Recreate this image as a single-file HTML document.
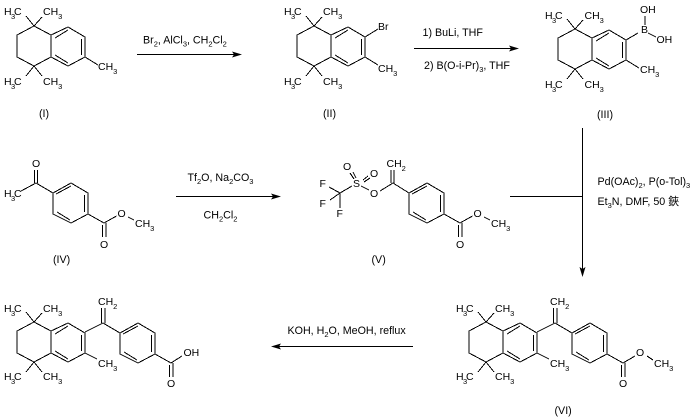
<!DOCTYPE html>
<html><head><meta charset="utf-8">
<style>
html,body{margin:0;padding:0;background:#fff;overflow:hidden}
svg{display:block}
text{font-family:"Liberation Sans","Noto Sans CJK JP",sans-serif;font-size:10.5px;fill:#000}
.r{font-size:10.7px}
.s{font-size:7.5px}
line,.l{stroke:#000;stroke-width:1;fill:none;shape-rendering:crispEdges}
.a{fill:#000;stroke:none}
</style></head><body>
<svg width="692" height="418" viewBox="0 0 692 418" xmlns="http://www.w3.org/2000/svg">
<defs>
<g id="t">
<polyline class="l" points="34,26 17,35 17,57 34,66 51,57 51,35 34,26"/>
<polyline class="l" points="51,35 68,27 85,37 85,57 68,66 51,57"/>
<line x1="55" y1="38" x2="68" y2="30"/><line x1="81.5" y1="39" x2="81.5" y2="55"/><line x1="55" y1="55" x2="68" y2="63"/>
<line x1="34" y1="26" x2="26" y2="16"/><line x1="34" y1="26" x2="42" y2="17"/>
<line x1="34" y1="66" x2="26" y2="76"/><line x1="34" y1="66" x2="42" y2="76"/>
</g>
<g id="b">
<polyline class="l" points="71,183 88,193 88,214 71,223 53,214 53,193 71,183"/>
<line x1="56" y1="194" x2="71" y2="186"/><line x1="84.5" y1="195" x2="84.5" y2="212"/><line x1="57" y1="212" x2="70" y2="220"/>
<line x1="88" y1="214" x2="104" y2="223"/>
<line x1="102.5" y1="225" x2="102.5" y2="237"/><line x1="106" y1="223" x2="106" y2="237"/>
</g>
<g id="e"><line x1="104" y1="223" x2="116.5" y2="216"/><line x1="128" y1="217" x2="134" y2="220"/></g>
<g id="v">
<use href="#t"/>
<use href="#b" x="67" y="-156"/>
<line x1="85" y1="36" x2="103" y2="27"/><line x1="103" y1="27" x2="120" y2="37"/>
<line x1="101.5" y1="12" x2="101.5" y2="27"/><line x1="105" y1="12" x2="105" y2="27"/>
<line x1="85" y1="57" x2="97" y2="63"/>
</g>
</defs>

<!-- I -->
<use href="#t"/>
<line x1="85" y1="57" x2="98" y2="65"/>
<text x="4" y="15">H<tspan class="s" x="11" y="19">3</tspan><tspan x="14" y="15">C</tspan></text>
<text x="43" y="15">CH<tspan class="s" dy="4">3</tspan></text>
<text x="4" y="85">H<tspan class="s" x="11" y="89">3</tspan><tspan x="14" y="85">C</tspan></text>
<text x="43" y="85">CH<tspan class="s" dy="4">3</tspan></text>
<text x="98" y="70">CH<tspan class="s" dy="4">3</tspan></text>
<text class="r" x="39" y="117">(I)</text>

<!-- II -->
<use href="#t" x="280"/>
<line x1="365" y1="37" x2="378" y2="29"/>
<line x1="365" y1="57" x2="378" y2="65"/>
<text x="284" y="15">H<tspan class="s" x="291" y="19">3</tspan><tspan x="294" y="15">C</tspan></text>
<text x="323" y="15">CH<tspan class="s" dy="4">3</tspan></text>
<text x="284" y="85">H<tspan class="s" x="291" y="89">3</tspan><tspan x="294" y="85">C</tspan></text>
<text x="323" y="85">CH<tspan class="s" dy="4">3</tspan></text>
<text x="378" y="30">Br</text>
<text x="378" y="72">CH<tspan class="s" dy="4">3</tspan></text>
<text class="r" x="323" y="117">(II)</text>

<!-- III -->
<use href="#t" x="541" y="3"/>
<line x1="626" y1="40" x2="638" y2="33"/>
<line x1="626" y1="60" x2="639" y2="68"/>
<line x1="645" y1="16" x2="645" y2="25"/>
<line x1="648" y1="33" x2="656" y2="37"/>
<text x="641" y="33">B</text>
<text x="640" y="13">OH</text>
<text x="656.5" y="43">OH</text>
<text x="545" y="19">H<tspan class="s" x="552" y="23">3</tspan><tspan x="555" y="19">C</tspan></text>
<text x="584.5" y="19">CH<tspan class="s" dy="4">3</tspan></text>
<text x="545" y="88">H<tspan class="s" x="552" y="92">3</tspan><tspan x="555" y="88">C</tspan></text>
<text x="584.5" y="88">CH<tspan class="s" dy="4">3</tspan></text>
<text x="640" y="73">CH<tspan class="s" dy="4">3</tspan></text>
<text class="r" x="597" y="118">(III)</text>

<!-- IV -->
<use href="#b"/><use href="#e"/>
<line x1="53" y1="193" x2="36" y2="183"/><line x1="36" y1="183" x2="21" y2="191"/>
<line x1="34.5" y1="170" x2="34.5" y2="183"/><line x1="37.5" y1="170" x2="37.5" y2="183"/>
<text x="32" y="167">O</text>
<text x="4" y="197">H<tspan class="s" x="11" y="201">3</tspan><tspan x="14" y="197">C</tspan></text>
<text x="100" y="248">O</text>
<text x="117.5" y="217">O</text>
<text x="135" y="227">CH<tspan class="s" dy="4">3</tspan></text>
<text class="r" x="53" y="263">(IV)</text>

<!-- V -->
<use href="#b" x="356"/><use href="#e" x="356"/>
<line x1="409" y1="193" x2="393" y2="183"/>
<line x1="391" y1="170" x2="391" y2="183"/><line x1="394" y1="170" x2="394" y2="183"/>
<line x1="393" y1="183" x2="380" y2="191"/>
<line x1="369" y1="190" x2="361" y2="186"/>
<line x1="350" y1="173" x2="354" y2="179"/><line x1="353" y1="172" x2="356" y2="178"/>
<line x1="363" y1="180" x2="368" y2="176"/><line x1="364" y1="182" x2="370" y2="178"/>
<line x1="352" y1="186" x2="340" y2="193"/>
<line x1="340" y1="193" x2="329" y2="187"/><line x1="340" y1="193" x2="330" y2="200"/><line x1="340" y1="193" x2="340" y2="208"/>
<text x="353" y="187">S</text>
<text x="343" y="170">O</text>
<text x="370" y="177">O</text>
<text x="370" y="197">O</text>
<text x="319.5" y="187">F</text>
<text x="319.5" y="207">F</text>
<text x="336.5" y="217">F</text>
<text x="386.5" y="167">CH<tspan class="s" dy="4">2</tspan></text>
<text x="456" y="248">O</text>
<text x="473.5" y="217">O</text>
<text x="491" y="227">CH<tspan class="s" dy="4">3</tspan></text>
<text class="r" x="371.5" y="263">(V)</text>

<!-- VI -->
<use href="#v" x="452" y="296"/>
<line x1="623" y1="363" x2="635" y2="356"/><line x1="647" y1="356" x2="653" y2="360"/>
<text x="456" y="312">H<tspan class="s" x="463" y="316">3</tspan><tspan x="466" y="312">C</tspan></text>
<text x="495" y="312">CH<tspan class="s" dy="4">3</tspan></text>
<text x="456" y="380">H<tspan class="s" x="463" y="384">3</tspan><tspan x="466" y="380">C</tspan></text>
<text x="495" y="380">CH<tspan class="s" dy="4">3</tspan></text>
<text x="550" y="367">CH<tspan class="s" dy="4">3</tspan></text>
<text x="550" y="305">CH<tspan class="s" dy="4">2</tspan></text>
<text x="619" y="387">O</text>
<text x="636" y="356">O</text>
<text x="654" y="367">CH<tspan class="s" dy="4">3</tspan></text>
<text class="r" x="554.5" y="414">(VI)</text>

<!-- Product -->
<use href="#v" x="0" y="296"/>
<line x1="171" y1="363" x2="182" y2="356"/>
<text x="4" y="312">H<tspan class="s" x="11" y="316">3</tspan><tspan x="14" y="312">C</tspan></text>
<text x="43" y="312">CH<tspan class="s" dy="4">3</tspan></text>
<text x="4" y="380">H<tspan class="s" x="11" y="384">3</tspan><tspan x="14" y="380">C</tspan></text>
<text x="43" y="380">CH<tspan class="s" dy="4">3</tspan></text>
<text x="98" y="367">CH<tspan class="s" dy="4">3</tspan></text>
<text x="98" y="305">CH<tspan class="s" dy="4">2</tspan></text>
<text x="167" y="387">O</text>
<text x="183.5" y="356">OH</text>

<!-- Arrows -->
<line x1="137" y1="54.5" x2="235" y2="54.5"/>
<polygon class="a" points="242,54.5 232,51.5 234,54.5 232,57.5"/>
<text class="r" x="143" y="43.5">Br<tspan class="s" dy="3">2</tspan><tspan dy="-3">, AlCl</tspan><tspan class="s" dy="3">3</tspan><tspan dy="-3">, CH</tspan><tspan class="s" dy="3">2</tspan><tspan dy="-3">Cl</tspan><tspan class="s" dy="3">2</tspan></text>

<line x1="414" y1="48.5" x2="512" y2="48.5"/>
<polygon class="a" points="519,48.5 509,45.5 511,48.5 509,51.5"/>
<text class="r" x="422.5" y="36">1) BuLi, THF</text>
<text class="r" x="424" y="69">2) B(O-i-Pr)<tspan class="s" dy="3">3</tspan><tspan dy="-3">, THF</tspan></text>

<line x1="176" y1="196.5" x2="274" y2="196.5"/>
<polygon class="a" points="281,196.5 271,193.5 273,196.5 271,199.5"/>
<text class="r" x="187.5" y="181">Tf<tspan class="s" dy="3">2</tspan><tspan dy="-3">O, Na</tspan><tspan class="s" dy="3">2</tspan><tspan dy="-3">CO</tspan><tspan class="s" dy="3">3</tspan></text>
<text class="r" x="203.5" y="218.5">CH<tspan class="s" dy="3">2</tspan><tspan dy="-3">Cl</tspan><tspan class="s" dy="3">2</tspan></text>

<line x1="510" y1="196.5" x2="583" y2="196.5"/>
<line x1="582.5" y1="128" x2="582.5" y2="270"/>
<polygon class="a" points="582.5,277 579.5,267 582.5,269 585.5,267"/>
<text class="r" x="597.5" y="185">Pd(OAc)<tspan class="s" dy="3">2</tspan><tspan dy="-3">, P(o-Tol)</tspan><tspan class="s" dy="3">3</tspan></text>
<text class="r" x="597.5" y="205">Et<tspan class="s" dy="3">3</tspan><tspan dy="-3">N, DMF, 50 鋏</tspan></text>

<line x1="278" y1="346.5" x2="413" y2="346.5"/>
<polygon class="a" points="271,346.5 281,343.5 279,346.5 281,349.5"/>
<text class="r" x="287.5" y="334">KOH, H<tspan class="s" dy="3">2</tspan><tspan dy="-3">O, MeOH, reflux</tspan></text>
</svg>
</body></html>
